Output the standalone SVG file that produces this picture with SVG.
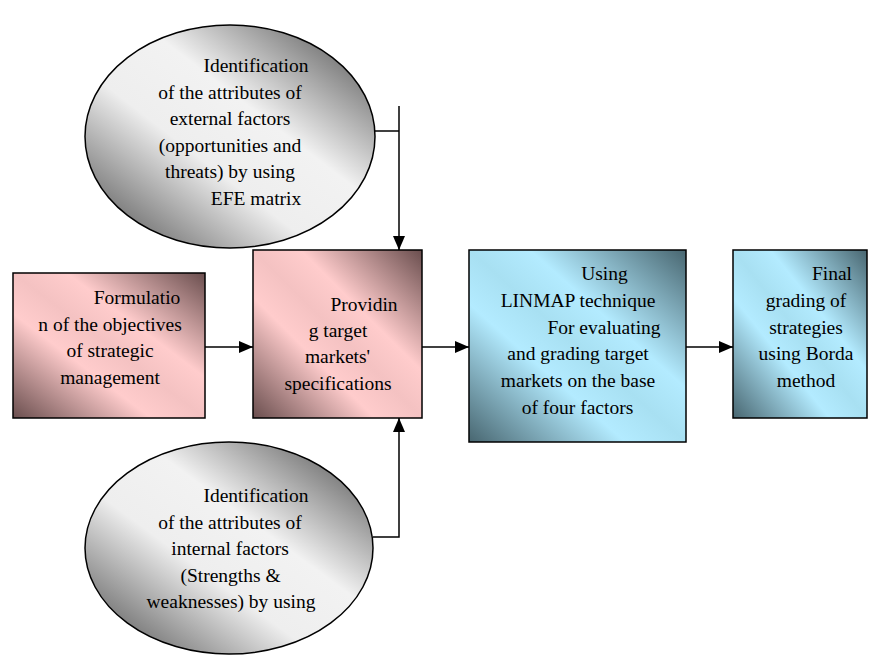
<svg xmlns="http://www.w3.org/2000/svg" width="869" height="656" viewBox="0 0 869 656">
<defs>
<linearGradient id="gPink" x1="1" y1="0" x2="0" y2="1">
<stop offset="0" stop-color="#6a4e4e"/>
<stop offset="0.36" stop-color="#ffcccc"/>
<stop offset="0.5" stop-color="#f4c2c2"/>
<stop offset="0.64" stop-color="#ffcccc"/>
<stop offset="1" stop-color="#6a4e4e"/>
</linearGradient>
<linearGradient id="gBlue" x1="1" y1="0" x2="0" y2="1">
<stop offset="0" stop-color="#486670"/>
<stop offset="0.36" stop-color="#b3ebff"/>
<stop offset="0.5" stop-color="#a8e0f2"/>
<stop offset="0.64" stop-color="#b3ebff"/>
<stop offset="1" stop-color="#486670"/>
</linearGradient>
<linearGradient id="gGray" x1="1" y1="0" x2="0" y2="1">
<stop offset="0" stop-color="#444444"/>
<stop offset="0.4" stop-color="#f2f2f2"/>
<stop offset="0.6" stop-color="#eeeeee"/>
<stop offset="1" stop-color="#444444"/>
</linearGradient>
<marker id="arr" viewBox="0 0 14 12" refX="14" refY="6" markerWidth="14" markerHeight="12" markerUnits="userSpaceOnUse" orient="auto">
<path d="M0,0 L14,6 L0,12 Z" fill="#000"/>
</marker>
<style>
.shape{stroke:#000;stroke-width:1.5}
.t{font-family:'Liberation Serif','Tinos','Times New Roman','DejaVu Serif',serif;font-size:19.5px;fill:#000;text-anchor:middle}
.c{fill:none;stroke:#000;stroke-width:1.5}
</style>
</defs>
<g id="connectors">
<path class="c" d="M375,131 H399"/>
<path class="c" d="M399,106 V250" marker-end="url(#arr)"/>
<path class="c" d="M373,537 H399 V418" marker-end="url(#arr)"/>
<path class="c" d="M205,347 H253" marker-end="url(#arr)"/>
<path class="c" d="M422,347 H469" marker-end="url(#arr)"/>
<path class="c" d="M686,347 H733" marker-end="url(#arr)"/>
</g>
<g id="external" font-family="Liberation Serif, serif">
<ellipse class="shape" cx="230" cy="136.5" rx="145" ry="111.5" fill="url(#gGray)"/>
<text class="t" x="256" y="72">Identification</text>
<text class="t" x="230" y="98.5">of the attributes of</text>
<text class="t" x="230" y="125">external factors</text>
<text class="t" x="230" y="152">(opportunities and</text>
<text class="t" x="230" y="178">threats) by using</text>
<text class="t" x="256" y="205">EFE matrix</text>
</g>
<g id="internal">
<ellipse class="shape" cx="229" cy="548" rx="144" ry="106" fill="url(#gGray)"/>
<text class="t" x="256" y="502">Identification</text>
<text class="t" x="230" y="528.5">of the attributes of</text>
<text class="t" x="230" y="555">internal factors</text>
<text class="t" x="230.5" y="582">(Strengths &amp;</text>
<text class="t" x="231" y="608">weaknesses) by using</text>
</g>
<g id="objectives">
<rect class="shape" x="13" y="273" width="192" height="145" fill="url(#gPink)"/>
<text class="t" x="137" y="304">Formulatio</text>
<text class="t" x="110" y="331">n of the objectives</text>
<text class="t" x="110" y="357">of strategic</text>
<text class="t" x="110" y="384">management</text>
</g>
<g id="providing">
<rect class="shape" x="253" y="250" width="169" height="168" fill="url(#gPink)"/>
<text class="t" x="364" y="311">Providin</text>
<text class="t" x="338" y="337">g target</text>
<text class="t" x="337.5" y="363">markets'</text>
<text class="t" x="338" y="390">specifications</text>
</g>
<g id="linmap">
<rect class="shape" x="469" y="250" width="217" height="192" fill="url(#gBlue)"/>
<text class="t" x="604.5" y="280">Using</text>
<text class="t" x="578" y="307">LINMAP technique</text>
<text class="t" x="604" y="334">For evaluating</text>
<text class="t" x="578" y="360">and grading target</text>
<text class="t" x="578" y="387">markets on the base</text>
<text class="t" x="577.5" y="414">of four factors</text>
</g>
<g id="borda">
<rect class="shape" x="733" y="250" width="134" height="168" fill="url(#gBlue)"/>
<text class="t" x="832" y="280">Final</text>
<text class="t" x="806" y="307">grading of</text>
<text class="t" x="806" y="334">strategies</text>
<text class="t" x="806" y="360">using Borda</text>
<text class="t" x="806" y="387">method</text>
</g>
</svg>
